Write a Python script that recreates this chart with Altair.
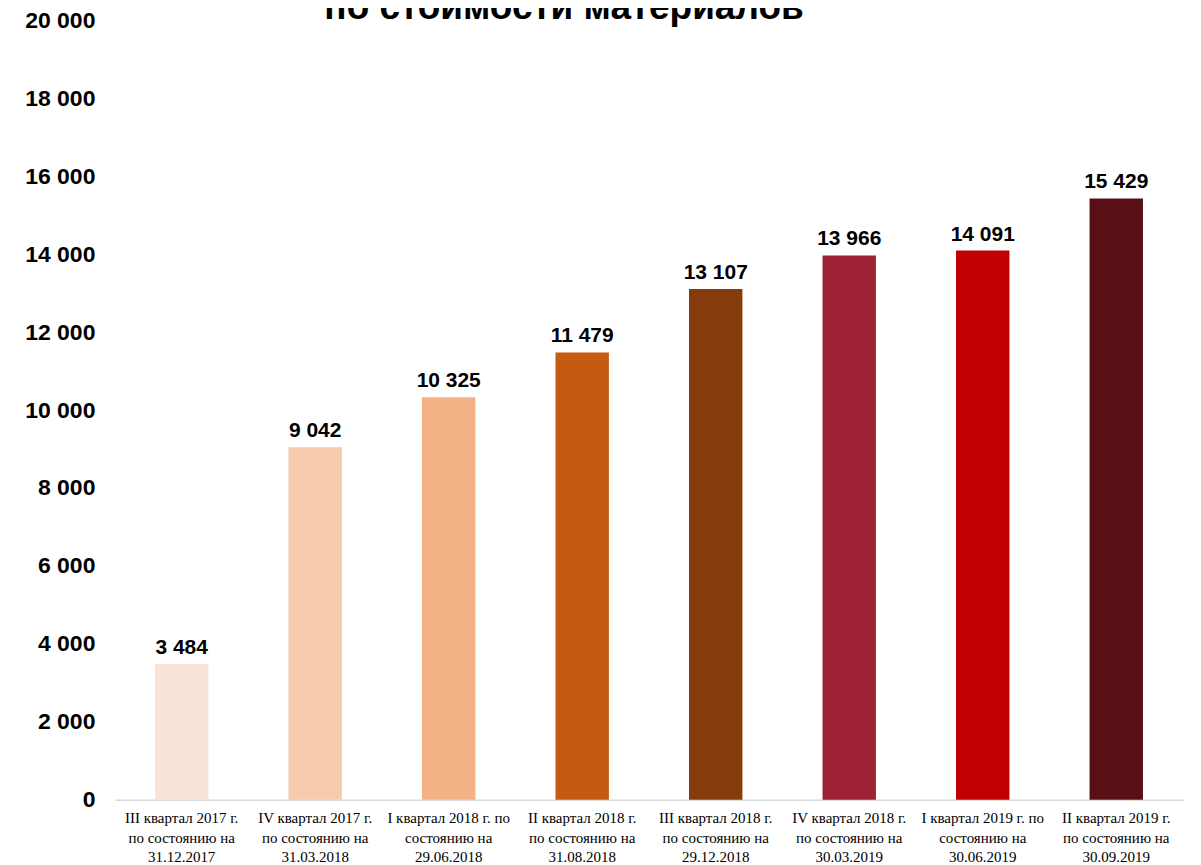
import altair as alt
import pandas as pd

categories = [
    "III квартал 2017 г.|по состоянию на|31.12.2017",
    "IV квартал 2017 г.|по состоянию на|31.03.2018",
    "I квартал 2018 г. по|состоянию на|29.06.2018",
    "II квартал 2018 г.|по состоянию на|31.08.2018",
    "III квартал 2018 г.|по состоянию на|29.12.2018",
    "IV квартал 2018 г.|по состоянию на|30.03.2019",
    "I квартал 2019 г. по|состоянию на|30.06.2019",
    "II квартал 2019 г.|по состоянию на|30.09.2019",
]
values = [3484, 9042, 10325, 11479, 13107, 13966, 14091, 15429]
colors = ["#F9E3D6", "#F7CBAE", "#F4B186", "#C55A11", "#843C0C", "#9E2235", "#C00000", "#580F16"]
y_ticks = [0, 2000, 4000, 6000, 8000, 10000, 12000, 14000, 16000, 18000, 20000]
title_text = "по стоимости материалов"

df = pd.DataFrame({"cat": categories, "value": values})

base = alt.Chart(df).encode(
    x=alt.X(
        "cat:N",
        sort=categories,
        title=None,
        scale=alt.Scale(paddingInner=0.6, paddingOuter=0.3),
        axis=alt.Axis(
            labelExpr="split(datum.label, '|')",
            labelAngle=0,
            labelFont="Liberation Serif",
            labelFontSize=15,
            labelLineHeight=19.5,
            labelColor="#000000",
            labelPadding=11,
            labelBaseline="top",
            ticks=False,
            domainColor="#d9d9d9",
            domainWidth=1.5,
            labelLimit=0,
        ),
    ),
    y=alt.Y(
        "value:Q",
        title=None,
        scale=alt.Scale(domain=[0, 20000], nice=False),
        axis=alt.Axis(
            values=y_ticks,
            labelExpr="replace(format(datum.value, ','), ',', ' ')",
            labelFont="Liberation Sans",
            labelFontSize=23,
            labelFontWeight="bold",
            labelColor="#000000",
            labelPadding=20,
            ticks=False,
            domain=False,
            grid=False,
        ),
    ),
)

bars = base.mark_bar().encode(
    color=alt.Color("cat:N", sort=categories, scale=alt.Scale(domain=categories, range=colors), legend=None)
)

labels = base.transform_calculate(
    lbl="replace(format(datum.value, ','), ',', ' ')"
).mark_text(
    dy=-10, baseline="alphabetic", font="Liberation Sans", fontSize=21, fontWeight="bold", color="#000000"
).encode(text="lbl:N")

chart = alt.layer(bars, labels).properties(
    width=1069,
    height=780,
    background="white",
    autosize=alt.AutoSizeParams(type="none"),
    padding={"left": 107, "top": 12, "right": 10, "bottom": 65},
    title=alt.TitleParams(
        text=title_text,
        font="Liberation Sans",
        fontSize=37,
        fontWeight="bold",
        color="#000000",
        anchor="middle",
        frame="group",
        baseline="alphabetic",
        offset=0,
        dx=-85,
        dy=47,
    ),
).configure_view(strokeWidth=0)

chart.save("out.html", embed_options={"renderer": "svg", "actions": False})
